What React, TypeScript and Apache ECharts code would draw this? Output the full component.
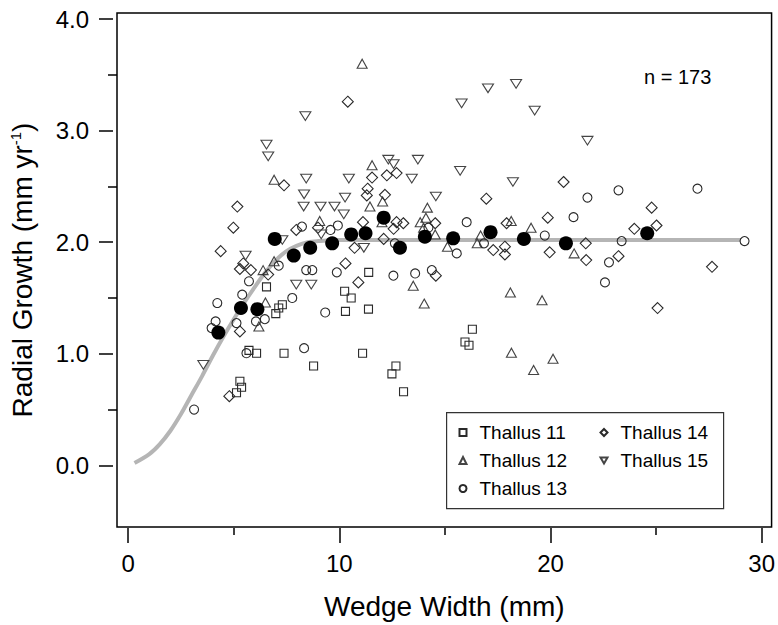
import React, { useEffect, useRef } from "react";
import * as echarts from "echarts";

// Thallus 11 (squares)
const thallus11: [number, number][] = [
  [6.55, 1.6], [10.25, 1.56], [10.56, 1.5], [10.29, 1.38], [11.38, 1.4], [11.39, 1.73],
  [7.3, 1.44], [7.13, 1.41], [6.99, 1.36], [5.72, 1.03], [6.08, 1.005], [7.38, 1.005],
  [11.1, 1.005], [8.78, 0.89], [5.29, 0.754], [5.37, 0.7], [5.13, 0.65], [16.3, 1.22],
  [15.95, 1.105], [16.14, 1.076], [12.68, 0.89], [12.49, 0.82], [13.04, 0.66],
];
// Thallus 12 (up triangles)
const thallus12: [number, number][] = [
  [6.91, 2.56], [11.55, 2.69], [11.45, 2.32], [9.07, 2.19], [6.39, 1.75], [6.91, 1.83],
  [6.5, 1.46], [6.19, 1.245], [11.08, 3.6], [12.05, 2.365], [14.17, 2.31], [12.02, 2.18],
  [13.83, 2.18], [14.1, 2.22], [13.99, 2.13], [14.54, 2.07], [15.12, 1.96], [16.69, 2.06],
  [16.53, 1.99], [18.14, 2.19], [19.08, 2.13], [13.5, 1.61], [14.02, 1.45], [18.1, 1.55],
  [19.6, 1.48], [18.15, 1.01], [20.12, 0.955], [19.2, 0.855], [21.12, 1.9],
];
// Thallus 13 (circles)
const thallus13: [number, number][] = [
  [8.23, 2.14], [9.58, 2.11], [9.93, 2.15], [7.13, 1.79], [5.72, 1.65], [8.43, 1.75],
  [8.72, 1.75], [9.88, 1.73], [5.4, 1.53], [7.77, 1.5], [9.33, 1.37], [4.22, 1.455],
  [6.47, 1.31], [6.05, 1.29], [5.13, 1.275], [4.14, 1.29], [3.95, 1.23], [5.6, 1.005],
  [8.33, 1.05], [3.12, 0.5], [16.03, 2.18], [12.63, 1.99], [15.56, 1.9], [16.85, 1.99],
  [19.73, 2.06], [12.56, 1.7], [13.59, 1.72], [14.38, 1.75], [14.22, 2.13], [21.75, 2.4],
  [23.22, 2.465], [26.96, 2.48], [21.09, 2.225], [23.37, 2.01], [29.19, 2.01], [22.77, 1.82],
  [22.58, 1.64],
];
// Thallus 14 (diamonds)
const thallus14: [number, number][] = [
  [7.38, 2.51], [11.55, 2.58], [11.34, 2.48], [11.3, 2.42], [5.17, 2.32], [4.98, 2.13],
  [7.96, 2.11], [8.99, 2.13], [11.12, 2.18], [10.72, 1.95], [4.38, 1.92], [5.45, 1.81],
  [5.29, 1.76], [5.81, 1.75], [6.63, 1.71], [10.29, 1.81], [10.9, 1.64], [5.29, 1.2],
  [4.79, 0.62], [10.4, 3.26], [12.25, 2.6], [12.71, 2.62], [20.62, 2.54], [12.16, 2.425],
  [16.96, 2.39], [19.87, 2.22], [12.71, 2.18], [13.03, 2.17], [12.57, 2.12], [14.54, 2.17],
  [12.1, 2.03], [17.92, 2.17], [17.29, 1.93], [17.84, 1.96], [17.84, 1.89], [19.96, 1.91],
  [14.57, 1.7], [24.79, 2.31], [25.02, 2.15], [23.97, 2.12], [21.67, 1.99], [21.69, 1.84],
  [23.22, 1.875], [27.65, 1.78], [25.07, 1.41],
];
// Thallus 15 (down triangles)
const thallus15: [number, number][] = [
  [6.55, 2.875], [6.63, 2.77], [8.43, 2.57], [10.45, 2.57], [8.33, 2.43], [10.27, 2.4],
  [8.31, 2.32], [9.11, 2.32], [9.77, 2.32], [10.21, 2.25], [9.14, 2.07], [7.3, 2.02],
  [11.16, 1.95], [5.56, 1.88], [7.96, 1.62], [8.67, 1.62], [3.56, 0.9], [15.79, 3.245],
  [17.04, 3.38], [18.37, 3.42], [19.25, 3.18], [12.32, 2.74], [12.57, 2.7], [13.72, 2.74],
  [13.43, 2.57], [15.72, 2.64], [18.22, 2.54], [14.57, 2.41], [8.39, 3.13], [21.75, 2.91],
];
// Binned means (filled black)
const meanPoints: [number, number][] = [
  [4.27, 1.19], [5.34, 1.41], [6.12, 1.4], [6.94, 2.03], [7.84, 1.88], [8.62, 1.95],
  [9.66, 1.99], [10.56, 2.07], [11.24, 2.08], [12.1, 2.22], [12.87, 1.95], [14.05, 2.05],
  [15.39, 2.035], [17.16, 2.09], [18.74, 2.03], [20.73, 1.99], [24.58, 2.08],
];
// Fitted curve
const fitX = [0.3, 1.0, 1.5, 2.0, 2.5, 3.0, 3.5, 4.0, 4.5, 5.0, 5.5, 6.0, 6.5, 7.0, 7.5, 8.0, 8.5, 9.0, 10.0, 29.0];
const fitY = [0.02, 0.1, 0.19, 0.31, 0.46, 0.63, 0.8, 0.98, 1.15, 1.31, 1.46, 1.6, 1.73, 1.84, 1.92, 1.97, 2.0, 2.01, 2.02, 2.02];

const xMajorTicks = [0, 10, 20, 30];
const xMinorTicks = [5, 15, 25];
const yMajorTicks = [0, 1, 2, 3, 4];
const yMinorTicks = [0.5, 1.5, 2.5, 3.5];

const seriesNames = ["Thallus 11", "Thallus 12", "Thallus 13", "Thallus 14", "Thallus 15"];

const FONT = "'Liberation Sans', Arial, Helvetica, sans-serif";
const X_MIN = -0.53;
const X_MAX = 30.47;
const Y_MIN = -0.553;
const Y_MAX = 4.055;

export default function App() {
  const ref = useRef<HTMLDivElement>(null);

  useEffect(() => {
    if (!ref.current) return;
    const chart = echarts.init(ref.current, undefined, { renderer: "svg" });
    const tickStyle = { color: "#000", width: 1.5 };
    const hollow = (color: string) => ({
      color: "transparent",
      borderColor: color,
      borderWidth: 1.1,
      opacity: 1,
    });
    const downTri = "path://M0,0 L10,0 L5,8.66 Z";
    const legendCommon = {
      orient: "vertical",
      top: 423,
      itemWidth: 7,
      itemHeight: 7,
      itemGap: 9,
      padding: 0,
      textStyle: { fontSize: 19, color: "#000", fontFamily: FONT, padding: [0, 0, 0, 8] },
    };

    const option: any = {
      animation: false,
      backgroundColor: "#fff",
      textStyle: { fontFamily: FONT },
      title: {
        text: "n = 173",
        left: 639,
        top: 62,
        textStyle: { fontSize: 20, fontWeight: "normal", color: "#000", fontFamily: FONT },
      },
      grid: {
        left: 117,
        top: 13,
        width: 658,
        height: 517,
        show: true,
        borderColor: "#000",
        borderWidth: 1.5,
        backgroundColor: "transparent",
      },
      legend: [
        { ...legendCommon, data: seriesNames.slice(0, 3), left: 458.5 },
        { ...legendCommon, data: seriesNames.slice(3), left: 599.5 },
      ],
      graphic: [
        {
          type: "rect",
          left: 446,
          top: 412,
          shape: { width: 277, height: 96 },
          style: { fill: "transparent", stroke: "#333", lineWidth: 1.2 },
          z: 10,
        },
      ],
      xAxis: [
        {
          type: "value",
          min: X_MIN,
          max: X_MAX,
          position: "bottom",
          offset: 1,
          axisLine: { show: false, onZero: false },
          splitLine: { show: false },
          axisTick: { show: true, customValues: xMajorTicks, length: 15, lineStyle: tickStyle },
          axisLabel: {
            customValues: xMajorTicks,
            fontSize: 24,
            color: "#000",
            margin: 23,
            fontFamily: FONT,
          },
          name: "Wedge Width (mm)",
          nameLocation: "middle",
          nameGap: 64,
          nameTextStyle: { fontSize: 28, color: "#000", fontFamily: FONT },
        },
        {
          type: "value",
          min: X_MIN,
          max: X_MAX,
          position: "bottom",
          offset: 1,
          axisLine: { show: false, onZero: false },
          splitLine: { show: false },
          axisTick: { show: true, customValues: xMinorTicks, length: 7, lineStyle: tickStyle },
          axisLabel: { show: false },
        },
      ],
      yAxis: [
        {
          type: "value",
          min: Y_MIN,
          max: Y_MAX,
          position: "left",
          offset: 4,
          axisLine: { show: false, onZero: false },
          splitLine: { show: false },
          axisTick: { show: true, customValues: yMajorTicks, length: 14, lineStyle: tickStyle },
          axisLabel: {
            customValues: yMajorTicks,
            formatter: (v: number) => v.toFixed(1),
            fontSize: 24,
            color: "#000",
            margin: 24,
            fontFamily: FONT,
          },
          name: "{a|Radial Growth (mm yr}{b|-1}{a|)}",
          nameLocation: "middle",
          nameGap: 77,
          nameTextStyle: {
            fontSize: 28,
            color: "#000",
            fontFamily: FONT,
            rich: {
              a: { fontSize: 28, color: "#000", fontFamily: FONT },
              b: { fontSize: 15, color: "#000", fontFamily: FONT, verticalAlign: "top" },
            },
          },
        },
        {
          type: "value",
          min: Y_MIN,
          max: Y_MAX,
          position: "left",
          offset: 0,
          axisLine: { show: false, onZero: false },
          splitLine: { show: false },
          axisTick: { show: true, customValues: yMinorTicks, length: 9, lineStyle: tickStyle },
          axisLabel: { show: false },
        },
      ],
      series: [
        {
          name: "fit",
          type: "line",
          data: fitX.map((x, i) => [x, fitY[i]]),
          showSymbol: false,
          smooth: 0.3,
          lineStyle: { color: "#b5b5b5", width: 4 },
          z: 1,
          silent: true,
        },
        {
          name: seriesNames[0],
          type: "scatter",
          data: thallus11,
          symbol: "rect",
          symbolSize: 8,
          itemStyle: hollow("#2a2a2a"),
          z: 2,
        },
        {
          name: seriesNames[1],
          type: "scatter",
          data: thallus12,
          symbol: "triangle",
          symbolSize: [10, 9],
          itemStyle: hollow("#444"),
          z: 2,
        },
        {
          name: seriesNames[2],
          type: "scatter",
          data: thallus13,
          symbol: "circle",
          symbolSize: 9,
          itemStyle: hollow("#2a2a2a"),
          z: 2,
        },
        {
          name: seriesNames[3],
          type: "scatter",
          data: thallus14,
          symbol: "diamond",
          symbolSize: 11,
          itemStyle: hollow("#2a2a2a"),
          z: 2,
        },
        {
          name: seriesNames[4],
          type: "scatter",
          data: thallus15,
          symbol: downTri,
          symbolKeepAspect: true,
          symbolSize: [11, 10],
          itemStyle: hollow("#444"),
          z: 2,
        },
        {
          name: "mean",
          type: "scatter",
          data: meanPoints,
          symbol: "circle",
          symbolSize: 14,
          itemStyle: { color: "#000", opacity: 1 },
          z: 3,
        },
      ],
    };

    chart.setOption(option);
    return () => {
      chart.dispose();
    };
  }, []);

  return (
    <div
      ref={ref}
      style={{ position: "absolute", left: 0, top: 0, width: 778, height: 625 }}
    />
  );
}
